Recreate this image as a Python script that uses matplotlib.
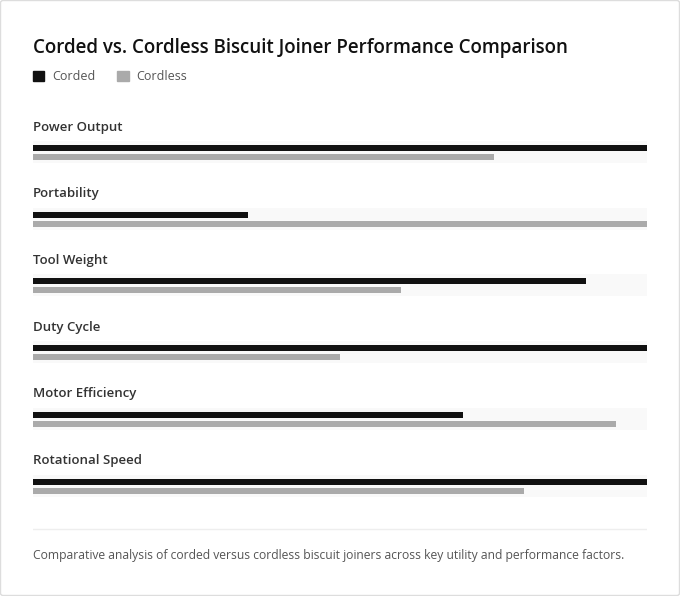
"""Corded vs cordless biscuit joiner: horizontal paired bars."""

import matplotlib.pyplot as plt
from matplotlib.patches import FancyBboxPatch, Patch

categories = [
    "Power Output",
    "Portability",
    "Tool Weight",
    "Duty Cycle",
    "Motor Efficiency",
    "Rotational Speed",
]
corded = [100, 35, 90, 100, 70, 100]
cordless = [75, 100, 60, 50, 95, 80]
max_value = 100

title = "Corded vs. Cordless Biscuit Joiner Performance Comparison"
footer = ("Comparative analysis of corded versus cordless biscuit joiners "
          "across key utility and performance factors.")

plt.rcParams["font.family"] = ["Open Sans", "DejaVu Sans"]

W, H = 680, 596
fig = plt.figure(figsize=(W / 100, H / 100), dpi=100)
fig.patch.set_facecolor("white")

# рамка карточки
fig.patches.append(FancyBboxPatch(
    (0.5 / W, 0.5 / H), (W - 1) / W, (H - 1) / H,
    boxstyle="round,pad=0,rounding_size=0.004",
    transform=fig.transFigure, facecolor="white",
    edgecolor="#dddddd", linewidth=1, zorder=-5))

# оси в пиксельных координатах по вертикали
ax = fig.add_axes([33 / W, 0, 614 / W, 1])
ax.set_xlim(0, max_value)
ax.set_ylim(H, 0)
ax.axis("off")

row0, step = 141, 66.7
for i, name in enumerate(categories):
    top = row0 + i * step
    ax.barh(top + 11, max_value, height=22, color="#f9f9f9", left=0)
    ax.barh(top + 7, corded[i], height=6, color="#111111")
    ax.barh(top + 16, cordless[i], height=6, color="#aaaaaa")
    ax.text(0, top - 14, name, fontsize=9.5, fontweight="semibold",
            color="#333333", va="center", ha="left")

fig.text(33 / W, 1 - 48 / H, title, fontsize=13.5, fontweight="semibold",
         color="#111111", va="center", ha="left")

handles = [Patch(color="#111111", label="Corded"),
           Patch(color="#aaaaaa", label="Cordless")]
fig.legend(handles=handles, loc="center left",
           bbox_to_anchor=(24 / W, 1 - 77 / H), ncol=2, frameon=False,
           fontsize=9, handlelength=0.9, handleheight=0.9,
           handletextpad=0.65, columnspacing=1.75, labelcolor="#555555",
           borderpad=0.2)

ax.plot([0, max_value], [529, 529], color="#eeeeee", linewidth=1)
fig.text(33 / W, 1 - 555 / H, footer, fontsize=8.75, color="#555555",
         va="center", ha="left")

fig.savefig("out.png", dpi=100)
